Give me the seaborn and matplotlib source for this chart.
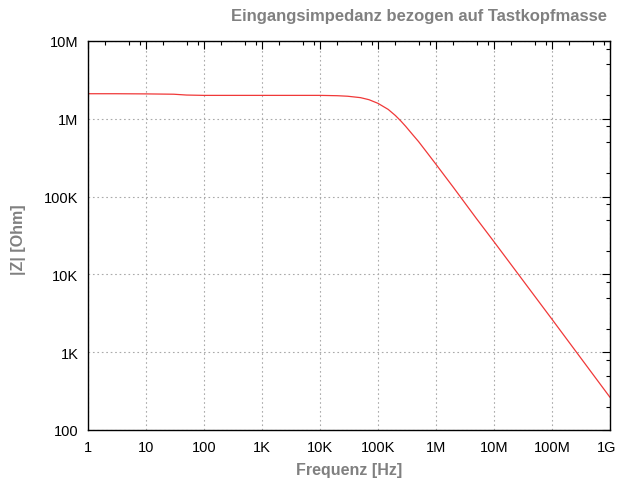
import numpy as np
import pandas as pd
import matplotlib
matplotlib.use("Agg")
import matplotlib.pyplot as plt
from matplotlib.ticker import FixedLocator, NullFormatter
import matplotlib.transforms as mtransforms
import seaborn as sns

# Data
freq_hz = [1, 3, 10, 30, 50, 100, 1e3, 1e4, 2e4, 3e4, 5e4, 7e4, 1e5, 1.5e5, 2e5, 2.5e5,
           3e5, 4e5, 5e5, 7e5, 1e6, 1.5e6, 2e6, 3e6, 5e6, 1e7, 1e8, 1e9]
impedance_ohm = [2.10e6, 2.10e6, 2.09e6, 2.07e6, 2.02e6, 2.00e6, 2.00e6, 2.00e6, 1.98e6, 1.95e6,
                 1.87e6, 1.76e6, 1.58e6, 1.32e6, 1.10e6, 0.93e6,
                 0.80e6, 0.62e6, 0.51e6, 0.368e6, 0.26e6, 0.174e6, 0.131e6, 8.7e4, 5.2e4,
                 2.63e4, 2.65e3, 2.63e2]

x_ticks = [1, 10, 100, 1e3, 1e4, 1e5, 1e6, 1e7, 1e8, 1e9]
x_tick_labels = ["1", "10", "100", "1K", "10K", "100K", "1M", "10M", "100M", "1G"]
y_ticks = [1e2, 1e3, 1e4, 1e5, 1e6, 1e7]
y_tick_labels = ["100", "1K", "10K", "100K", "1M", "10M"]

title = "Eingangsimpedanz bezogen auf Tastkopfmasse"
xlabel = "Frequenz [Hz]"
ylabel = "|Z| [Ohm]"

df = pd.DataFrame({"f": freq_hz, "z": impedance_ohm})

sns.set_style("white")
plt.rcParams["font.family"] = ["Liberation Sans", "DejaVu Sans"]

W, H = 617, 489
fig = plt.figure(figsize=(W / 100, H / 100), dpi=100)
left, right, top, bottom = 88, 610, 42, 431
ax = fig.add_axes([left / W, 1 - bottom / H, (right - left) / W, (bottom - top) / H])

sns.lineplot(data=df, x="f", y="z", ax=ax, color="#f03838", linewidth=0.9)

ax.set_xscale("log")
ax.set_yscale("log")
ax.set_xlim(1, 1e9)
ax.set_ylim(1e2, 1e7)

ax.xaxis.set_major_locator(FixedLocator(x_ticks))
ax.set_xticklabels(x_tick_labels)
ax.yaxis.set_major_locator(FixedLocator(y_ticks))
ax.set_yticklabels(y_tick_labels)

minor_x = [d * m for d in x_ticks[:-1] for m in (2, 5, 8)]
minor_y = [d * m for d in y_ticks[:-1] for m in (2, 5, 8)]
ax.xaxis.set_minor_locator(FixedLocator(minor_x))
ax.yaxis.set_minor_locator(FixedLocator(minor_y))
ax.xaxis.set_minor_formatter(NullFormatter())
ax.yaxis.set_minor_formatter(NullFormatter())

ax.tick_params(which="both", direction="in", top=True, right=True, color="black",
               labelsize=10.5, labelcolor="black")
ax.tick_params(which="major", length=6, width=0.8, pad=7)
ax.tick_params(which="minor", length=3, width=0.8)

# shift the last x tick label slightly left so it stays inside the figure
last = ax.get_xticklabels()[-1]
last.set_transform(last.get_transform() + mtransforms.ScaledTranslation(-3 / 100, 0, fig.dpi_scale_trans))

for s in ax.spines.values():
    s.set_visible(True)
    s.set_color("black")
    s.set_linewidth(1.0)

ax.grid(True, which="major", color="#aaaaaa", linestyle=(0, (1.5, 2.5)), linewidth=0.8)
ax.set_xlabel("")
ax.set_ylabel("")

gray = "#808080"
fig.text(419 / W, 1 - 16 / H, title, ha="center", va="center", fontsize=12,
         fontweight="bold", color=gray)
fig.text(349 / W, 1 - 471 / H, xlabel, ha="center", va="center", fontsize=11.5,
         fontweight="bold", color=gray)
fig.text(18 / W, 1 - 240 / H, ylabel, ha="center", va="center", fontsize=11.5,
         fontweight="bold", color=gray, rotation=90)

fig.savefig("out.png", dpi=100)
